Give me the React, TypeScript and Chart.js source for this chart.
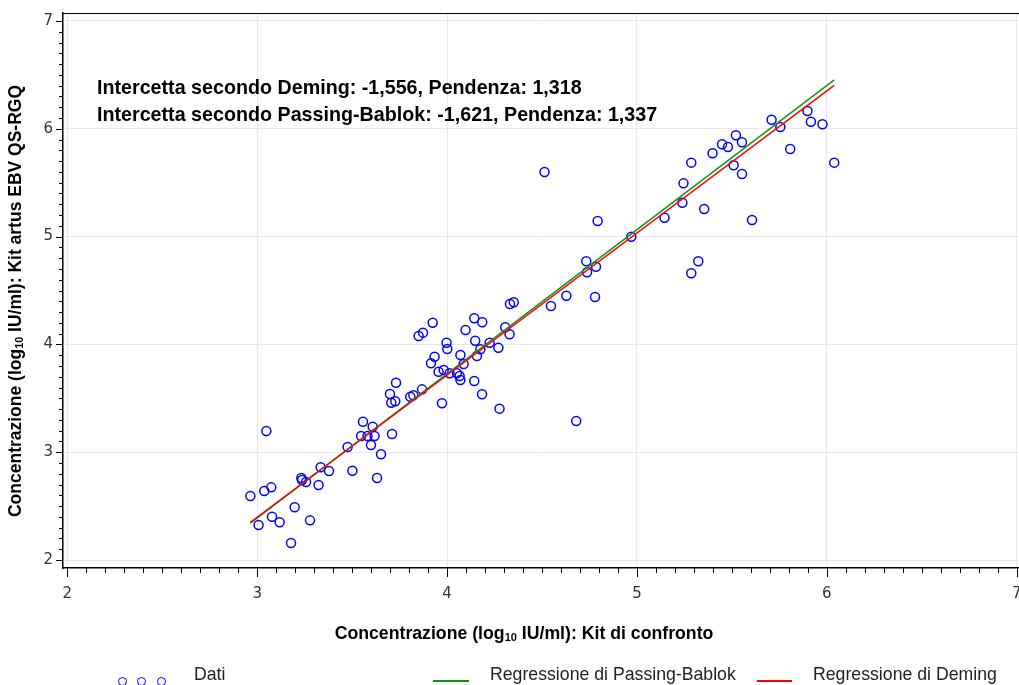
import React, { useEffect, useRef } from "react";
import { Chart, registerables } from "chart.js";

Chart.register(...registerables);

// Kit di confronto (log10 IU/ml)
const compKit = [
  2.964, 3.007, 3.048, 3.037, 3.074, 3.078, 3.118, 3.178, 3.197, 3.232,
  3.236, 3.257, 3.278, 3.323, 3.334, 3.378, 3.476, 3.501, 3.557, 3.608,
  3.547, 3.581, 3.618, 3.599, 3.631, 3.652, 3.710, 3.699, 3.706, 3.727,
  3.731, 3.806, 3.822, 3.868, 3.850, 3.873, 3.924, 3.915, 3.934, 3.955,
  3.982, 3.973, 3.997, 4.001, 4.013, 4.052, 4.066, 4.070, 4.070, 4.087,
  4.097, 4.143, 4.148, 4.157, 4.143, 4.175, 4.185, 4.184, 4.224, 4.270,
  4.276, 4.306, 4.329, 4.331, 4.351, 4.513, 4.547, 4.628, 4.680, 4.733,
  4.737, 4.784, 4.793, 4.779, 4.970, 5.145, 5.239, 5.245, 5.286, 5.286,
  5.323, 5.354, 5.398, 5.448, 5.479, 5.509, 5.521, 5.553, 5.553, 5.606,
  5.709, 5.755, 5.807, 5.898, 5.916, 5.977, 6.039,
];

// Kit artus EBV QS-RGQ (log10 IU/ml)
const artusKit = [
  2.594, 2.325, 3.197, 2.640, 2.674, 2.402, 2.350, 2.158, 2.489, 2.761,
  2.742, 2.724, 2.368, 2.696, 2.860, 2.826, 3.048, 2.828, 3.283, 3.237,
  3.150, 3.150, 3.150, 3.067, 2.761, 2.981, 3.169, 3.540, 3.459, 3.472,
  3.645, 3.515, 3.528, 3.583, 4.078, 4.109, 4.201, 3.825, 3.886, 3.747,
  3.763, 3.454, 4.016, 3.957, 3.732, 3.732, 3.707, 3.670, 3.902, 3.818,
  4.134, 4.242, 4.034, 3.892, 3.660, 3.955, 4.205, 3.537, 4.016, 3.969,
  3.404, 4.159, 4.094, 4.375, 4.391, 5.599, 4.356, 4.452, 3.289, 4.771,
  4.669, 4.721, 5.145, 4.440, 4.999, 5.175, 5.314, 5.494, 4.660, 5.686,
  4.771, 5.256, 5.773, 5.856, 5.831, 5.661, 5.940, 5.875, 5.581, 5.154,
  6.084, 6.017, 5.813, 6.165, 6.066, 6.042, 5.686,
];

const demingIntercept = -1.556;
const demingSlope = 1.318;
const pbIntercept = -1.621;
const pbSlope = 1.337;

const xTickValues = [2, 3, 4, 5, 6, 7];
const yTickValues = [2, 3, 4, 5, 6, 7];
const minorStep = 0.1;

const xRange = [1.977, 7.012];
const yRange = [1.926, 7.074];

const annotationLines = [
  "Intercetta secondo Deming: -1,556, Pendenza: 1,318",
  "Intercetta secondo Passing-Bablok: -1,621, Pendenza: 1,337",
];

const legendLabels = ["Dati", "Regressione di Passing-Bablok", "Regressione di Deming"];

const BLUE = "#0000ff";
const GREEN = "#109410";
const RED = "#ff0000";

const W = 1019;
const H = 685;

const fitX = [Math.min(...compKit), Math.max(...compKit)];

const zeroPadding = (s: any) => {
  s.paddingLeft = 0;
  s.paddingRight = 0;
  s.paddingTop = 0;
  s.paddingBottom = 0;
};

const minorTicksPlugin = {
  id: "minorTicksPlugin",
  afterDraw(chart: any) {
    const { ctx, chartArea, scales } = chart;
    const xs = scales.x;
    const ys = scales.y;
    ctx.save();
    ctx.strokeStyle = "#000";
    ctx.lineWidth = 1;
    ctx.beginPath();
    ctx.moveTo(chartArea.left, chartArea.top + 0.5);
    ctx.lineTo(chartArea.right, chartArea.top + 0.5);
    ctx.stroke();
    const n = Math.round((xTickValues[xTickValues.length - 1] - xTickValues[0]) / minorStep);
    for (let i = 0; i <= n; i++) {
      const v = xTickValues[0] + i * minorStep;
      const px = Math.round(xs.getPixelForValue(v)) + 0.5;
      const len = i % 10 === 0 ? 9 : 5;
      ctx.beginPath();
      ctx.moveTo(px, chartArea.bottom);
      ctx.lineTo(px, chartArea.bottom + len);
      ctx.stroke();
    }
    const m = Math.round((yTickValues[yTickValues.length - 1] - yTickValues[0]) / minorStep);
    for (let i = 0; i <= m; i++) {
      const v = yTickValues[0] + i * minorStep;
      const py = Math.round(ys.getPixelForValue(v)) + 0.5;
      const len = i % 10 === 0 ? 7 : 4;
      ctx.beginPath();
      ctx.moveTo(chartArea.left, py);
      ctx.lineTo(chartArea.left - len, py);
      ctx.stroke();
    }
    ctx.restore();
  },
};

const sansFont = "'Liberation Sans', Arial, sans-serif";

const Sub = () => (
  <span style={{ fontSize: "0.62em", verticalAlign: "-0.2em" }}>10</span>
);

export default function App() {
  const canvasRef = useRef<HTMLCanvasElement | null>(null);

  useEffect(() => {
    document.body.style.margin = "0";
    document.body.style.overflow = "hidden";
    const canvas = canvasRef.current;
    if (!canvas) return;
    const points = compKit.map((x, i) => ({ x, y: artusKit[i] }));
    const deming = fitX.map((x) => ({ x, y: demingIntercept + demingSlope * x }));
    const pb = fitX.map((x) => ({ x, y: pbIntercept + pbSlope * x }));

    const chart = new Chart(canvas, {
      type: "scatter",
      data: {
        datasets: [
          {
            label: legendLabels[2],
            data: deming,
            showLine: true,
            borderColor: RED,
            borderWidth: 1.5,
            pointRadius: 0,
            fill: false,
          },
          {
            label: legendLabels[1],
            data: pb,
            showLine: true,
            borderColor: GREEN,
            borderWidth: 1.5,
            pointRadius: 0,
            fill: false,
          },
          {
            label: legendLabels[0],
            data: points,
            pointStyle: "circle",
            pointRadius: 4.5,
            borderWidth: 1.5,
            borderColor: BLUE,
            backgroundColor: "rgba(0,0,0,0)",
          },
        ],
      },
      options: {
        animation: false,
        responsive: false,
        maintainAspectRatio: false,
        devicePixelRatio: 1,
        layout: { padding: { top: 13, right: 0, left: 0, bottom: 0 }, autoPadding: false },
        plugins: { legend: { display: false }, tooltip: { enabled: false } },
        scales: {
          x: {
            type: "linear",
            min: xRange[0],
            max: xRange[1],
            afterBuildTicks: (s: any) => {
              s.ticks = xTickValues.map((v) => ({ value: v }));
            },
            afterFit: (s: any) => {
              s.height = 117;
              zeroPadding(s);
            },
            ticks: {
              font: { family: "'DejaVu Sans'", size: 15 },
              color: "#333",
              padding: 17,
              maxRotation: 0,
              autoSkip: false,
            },
            grid: { color: "#e8e8e8", drawTicks: false, lineWidth: 1 },
            border: { color: "#000", width: 1.5 },
          },
          y: {
            type: "linear",
            min: yRange[0],
            max: yRange[1],
            afterBuildTicks: (s: any) => {
              s.ticks = yTickValues.map((v) => ({ value: v }));
            },
            afterFit: (s: any) => {
              s.width = 63;
              zeroPadding(s);
            },
            ticks: {
              font: { family: "'DejaVu Sans'", size: 15 },
              color: "#333",
              padding: 10,
              autoSkip: false,
            },
            grid: { color: "#e8e8e8", drawTicks: false, lineWidth: 1 },
            border: { color: "#000", width: 1.5 },
          },
        },
      },
      plugins: [minorTicksPlugin],
    });
    return () => chart.destroy();
  }, []);

  const legendText: React.CSSProperties = {
    position: "absolute",
    top: 666,
    fontFamily: sansFont,
    fontSize: 17.7,
    lineHeight: "17.7px",
    color: "#222",
    whiteSpace: "nowrap",
  };

  return (
    <div style={{ position: "fixed", left: 0, top: 0, width: W, height: H, background: "#fff", overflow: "hidden" }}>
      <canvas ref={canvasRef} width={W} height={H} style={{ position: "absolute", left: 0, top: 0, width: W, height: H }} />
      <div style={{ position: "absolute", left: 0, top: 0, width: W, height: H, pointerEvents: "none" }}>
        {annotationLines.map((t, i) => (
          <div
            key={i}
            style={{
              position: "absolute",
              left: 97,
              top: 77 + i * 27,
              fontFamily: sansFont,
              fontWeight: "bold",
              fontSize: 19.7,
              lineHeight: "20px",
              color: "#000",
              whiteSpace: "nowrap",
            }}
          >
            {t}
          </div>
        ))}
        <div
          style={{
            position: "absolute",
            left: 524,
            top: 625,
            transform: "translateX(-50%)",
            fontFamily: sansFont,
            fontWeight: "bold",
            fontSize: 17.7,
            lineHeight: "17.7px",
            color: "#000",
            whiteSpace: "nowrap",
          }}
        >
          Concentrazione (log<Sub /> IU/ml): Kit di confronto
        </div>
        <div
          style={{
            position: "absolute",
            left: 18,
            top: 301,
            transform: "translate(-50%, -50%) rotate(-90deg)",
            fontFamily: sansFont,
            fontWeight: "bold",
            fontSize: 17.5,
            lineHeight: "17.5px",
            color: "#000",
            whiteSpace: "nowrap",
          }}
        >
          Concentrazione (log<Sub /> IU/ml): Kit artus EBV QS-RGQ
        </div>
        {[122, 141, 161].map((cx) => (
          <div
            key={cx}
            style={{
              position: "absolute",
              left: cx - 4.5,
              top: 681 - 4.5,
              width: 9,
              height: 9,
              boxSizing: "border-box",
              borderRadius: "50%",
              border: `1.5px solid ${BLUE}`,
            }}
          />
        ))}
        <div style={{ ...legendText, left: 194 }}>{legendLabels[0]}</div>
        <div style={{ position: "absolute", left: 433, top: 680, width: 36, height: 1.5, background: GREEN }} />
        <div style={{ ...legendText, left: 490 }}>{legendLabels[1]}</div>
        <div style={{ position: "absolute", left: 757, top: 680, width: 35, height: 1.5, background: RED }} />
        <div style={{ ...legendText, left: 813 }}>{legendLabels[2]}</div>
      </div>
    </div>
  );
}
